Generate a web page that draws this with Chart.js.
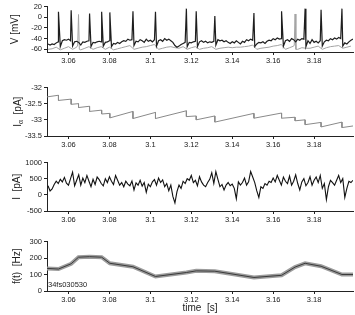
<!DOCTYPE html>
<html>
<head>
<meta charset="utf-8">
<script src="https://cdn.jsdelivr.net/npm/chart.js@4.4.1/dist/chart.umd.min.js"></script>
<style>
  body { margin: 0; background: #fff; width: 355px; height: 315px; position: relative; overflow: hidden; }
  canvas { position: absolute; left: 0; }
</style>
</head>
<body>
<canvas id="vChart" width="355" height="66" style="top:0px"></canvas>
<canvas id="iaChart" width="355" height="69" style="top:81px"></canvas>
<canvas id="iChart" width="355" height="69" style="top:156px"></canvas>
<canvas id="fChart" width="355" height="80" style="top:235px"></canvas>
<script>
// shared time axis
const timeTicks = [3.06, 3.08, 3.1, 3.12, 3.14, 3.16, 3.18];
const tStart = 3.0495, tEnd = 3.199;
const sampleStart = 3.050; // first sample, 1 ms steps

// membrane voltage (mV), recorded trace between spikes, 1 ms samples
const vRecorded = [
  -50, -52, -50, -51, -48, -46, -55, -44, -42, -43,
  -41, -44, -54, -46, -45, -47, -52, -46, -47, -45,
  -44, -55, -47, -48, -46, -45, -46, -54, -47, -46,
  -44, -55, -49, -50, -47, -49, -46, -44, -45, -41,
  -43, -42, -53, -45, -46, -42, -44, -47, -41, -45,
  -43, -46, -42, -54, -44, -42, -45, -40, -43, -41,
  -44, -47, -53, -56, -54, -51, -49, -47, -55, -47,
  -48, -46, -45, -55, -46, -44, -47, -45, -48, -46,
  -47, -45, -52, -42, -44, -43, -46, -44, -47, -49,
  -46, -48, -44, -47, -50, -45, -47, -42, -44, -41,
  -43, -55, -50, -47, -48, -46, -49, -45, -43, -44,
  -40, -42, -39, -41, -40, -54, -44, -42, -45, -40,
  -42, -46, -41, -43, -40, -41, -55, -44, -49, -42,
  -47, -45, -48, -44, -54, -46, -43, -44, -40, -42,
  -39, -41, -38, -40, -54, -48, -50, -46, -43, -41
];
// recorded spikes
const spikeTimes = [3.0551, 3.0613, 3.0703, 3.0762, 3.0802, 3.0915, 3.1025, 3.1176,
                    3.1224, 3.1315, 3.1506, 3.1641, 3.1756, 3.1834, 3.1936];
const spikePeaks = [10, 13, 7, 10, 9, 11, 10, 16, 11, 2, 8, 11, 16, 14, 16];

// model voltage (mV), 2 ms samples
const vModel = [
  -60, -59, -56, -61, -58, -55, -60, -56, -61, -58,
  -55, -60, -57, -55, -60, -56, -61, -59, -57, -55,
  -53, -60, -58, -56, -55, -53, -51, -60, -58, -56,
  -55, -57, -58, -55, -60, -57, -55, -60, -58, -57,
  -55, -60, -58, -57, -56, -57, -56, -56, -55, -54,
  -52, -60, -58, -57, -56, -54, -53, -51, -60, -57,
  -54, -60, -57, -58, -58, -56, -54, -60, -57, -55,
  -54, -53, -58, -56, -54
];
// model spikes: [time, mV]
const modelSpikes = [
  [3.0645, -52], [3.0649, 5], [3.0653, -60],
  [3.1703, -52], [3.1707, 6], [3.1711, -60]
];

// adaptation current I_alpha (pA)
const iaTimes = [3.0495, 3.0551, 3.0551, 3.0613, 3.0613, 3.0649, 3.0649, 3.0703, 3.0703,
                 3.0762, 3.0762, 3.0802, 3.0802, 3.0915, 3.0915, 3.1025, 3.1025,
                 3.1176, 3.1176, 3.1224, 3.1224, 3.1315, 3.1315, 3.1506, 3.1506,
                 3.1641, 3.1641, 3.1707, 3.1707, 3.1756, 3.1756, 3.1834, 3.1834,
                 3.1936, 3.1936, 3.199];
const iaValues = [-32.29, -32.24, -32.40, -32.36, -32.52, -32.50, -32.62, -32.58, -32.74,
                  -32.70, -32.82, -32.80, -32.94, -32.74, -32.96, -32.77, -32.96,
                  -32.72, -32.90, -32.88, -33.00, -32.88, -33.07, -32.80, -32.95,
                  -32.79, -32.95, -32.92, -33.03, -33.00, -33.15, -33.08, -33.22,
                  -33.07, -33.24, -33.19];

// injected current I (pA), 1 ms samples
const iValues = [
  280, 120, 180, 320, 420, 350, 480, 400, 540, 360,
  300, 500, 700, 280, 450, 620, 300, 520, 380, 600,
  420, 250, 480, 320, 550, 470, 350, 280, 500, 380,
  560, 420, 320, 600, 450, 300, 380, 250, 420, 330,
  280, 430, 150, 370, 300, 450, 270, 380, 80, 330,
  250, 400, 470, 300, 520, 380, 460, 250, 350, 130,
  300, -50, -250, 100, 300, 200, 420, 350, 500, 450,
  600, 380, 450, 280, 560, 400, 300, 250, 380, 480,
  680, 350, 720, 480, 250, 320, 150, 300, 380, 280,
  330, 200, -120, 400, 300, 380, 520, 300, 400, 720,
  550, 380, 120, -80, 250, 200, 350, 300, 420, 380,
  520, 400, 600, 450, 300, 550, 420, 350, 580, 300,
  420, 620, 350, 150, 400, 500, 280, 380, 560, 300,
  450, 550, 380, 600, 200, 350, -150, 250, 450, 380,
  300, 450, 600, 380, 500, -80, 200, 420, 380, 450
];

// firing rate f(t) (Hz)
const fTimes = [3.0495, 3.0551, 3.0613, 3.0649, 3.0703, 3.0762, 3.0802, 3.0915, 3.1025,
                3.1176, 3.1224, 3.1315, 3.1506, 3.1641, 3.1707, 3.1756, 3.1834, 3.1936, 3.199];
const fRates = [137, 133, 165, 205, 208, 205, 168, 147, 88, 112, 122, 120, 82, 95, 145, 168, 150, 100, 100];

const vTicks = [-60, -40, -20, 0, 20];
const iaTicks = [-33.5, -33, -32.5, -32];
const iTicks = [-500, 0, 500, 1000];
const fTicks = [0, 100, 200, 300];
const cellLabel = '34fs030530';

const FONT = '"Liberation Sans", Arial, Helvetica, sans-serif';
const AXIS = '#222';

// build point lists
const vPoints = vRecorded.map((v, i) => ({ x: sampleStart + i * 0.001, y: v }));
spikeTimes.forEach((t, k) => vPoints.push({ x: t, y: spikePeaks[k] }));
vPoints.sort((a, b) => a.x - b.x);

const modelPoints = vModel.map((v, i) => ({ x: sampleStart + i * 0.002, y: v }));
modelSpikes.forEach(p => modelPoints.push({ x: p[0], y: p[1] }));
modelPoints.sort((a, b) => a.x - b.x);

const iaPoints = iaTimes.map((t, i) => ({ x: t, y: iaValues[i] }));
const iPoints = iValues.map((v, i) => ({ x: sampleStart + i * 0.001, y: v }));
const fPoints = fTimes.map((t, i) => ({ x: t, y: fRates[i] }));

// rotated y axis titles, with optional subscript
const yTitlePlugin = {
  id: 'yTitle',
  afterDraw(chart, args, opts) {
    if (!opts.parts) return;
    const { ctx, chartArea } = chart;
    ctx.save();
    ctx.translate(opts.x, (chartArea.top + chartArea.bottom) / 2);
    ctx.rotate(-Math.PI / 2);
    ctx.fillStyle = AXIS;
    ctx.textBaseline = 'alphabetic';
    ctx.textAlign = 'left';
    let total = 0;
    opts.parts.forEach(p => {
      ctx.font = (p.sub ? 7 : 10) + 'px ' + FONT;
      total += ctx.measureText(p.t).width;
    });
    let x = -total / 2;
    opts.parts.forEach(p => {
      ctx.font = (p.sub ? 7 : 10) + 'px ' + FONT;
      ctx.fillText(p.t, x, p.sub ? 6 : 3.5);
      x += ctx.measureText(p.t).width;
    });
    ctx.restore();
  }
};

const labelPlugin = {
  id: 'cellLabel',
  afterDatasetsDraw(chart, args, opts) {
    if (!opts.text) return;
    const { ctx, chartArea } = chart;
    ctx.save();
    ctx.font = '7.5px ' + FONT;
    ctx.fillStyle = AXIS;
    ctx.textBaseline = 'middle';
    ctx.fillText(opts.text, chartArea.left + 1, chartArea.bottom - 6);
    ctx.restore();
  }
};

function makePanel(id, datasets, yMin, yMax, yTicks, titleParts, extra) {
  extra = extra || {};
  new Chart(document.getElementById(id), {
    type: 'line',
    data: { datasets: datasets },
    options: {
      responsive: false,
      animation: false,
      devicePixelRatio: 1,
      layout: { padding: { top: 5, left: 0, right: 2, bottom: extra.xTitle ? 0 : 2 } },
      elements: { point: { radius: 0 }, line: { tension: 0 } },
      plugins: {
        legend: { display: false },
        tooltip: { enabled: false },
        yTitle: { parts: titleParts, x: extra.titleX || 16 },
        cellLabel: { text: extra.label }
      },
      scales: {
        x: {
          type: 'linear',
          min: tStart,
          max: tEnd,
          afterBuildTicks: s => { s.ticks = timeTicks.map(v => ({ value: v })); },
          afterFit: s => { s.height = extra.xTitle ? 24 : 12; },
          ticks: {
            autoSkip: false, maxRotation: 0, padding: 1, color: AXIS,
            font: { family: FONT, size: 7.5 },
            callback: v => String(v)
          },
          grid: { drawOnChartArea: false, tickLength: 3, color: AXIS },
          border: { color: AXIS, width: 1 },
          title: extra.xTitle ? {
            display: true, text: extra.xTitle, color: AXIS,
            font: { family: FONT, size: 10 }, padding: { top: 0, bottom: 1 }
          } : { display: false }
        },
        y: {
          min: yMin,
          max: yMax,
          afterBuildTicks: s => { s.ticks = yTicks.map(v => ({ value: v })); },
          afterFit: s => { s.width = 47; },
          ticks: {
            autoSkip: false, padding: 2, color: AXIS,
            font: { family: FONT, size: 7.5 },
            callback: v => String(v)
          },
          grid: { drawOnChartArea: false, tickLength: 3, color: AXIS },
          border: { color: AXIS, width: 1 }
        }
      }
    },
    plugins: [yTitlePlugin, labelPlugin]
  });
}

makePanel('vChart', [
  { data: vPoints, borderColor: '#1e1e1e', borderWidth: 1.2 },
  { data: modelPoints, borderColor: '#a3a3a3', borderWidth: 1 }
], -65, 20, vTicks, [{ t: 'V [mV]' }], { titleX: 14 });

makePanel('iaChart', [
  { data: iaPoints, borderColor: '#8a8a8a', borderWidth: 1 }
], -33.5, -32, iaTicks, [{ t: 'I' }, { t: 'α', sub: true }, { t: '  [pA]' }], { titleX: 17 });

makePanel('iChart', [
  { data: iPoints, borderColor: '#111', borderWidth: 1.1 }
], -500, 1000, iTicks, [{ t: 'I  [pA]' }]);

makePanel('fChart', [
  { data: fPoints, borderColor: '#3a3a3a', borderWidth: 1 },
  { data: fPoints, borderColor: '#9c9c9c', borderWidth: 4 }
], 0, 300, fTicks, [{ t: 'f(t)  [Hz]' }], { xTitle: 'time  [s]', label: cellLabel });
</script>
</body>
</html>
